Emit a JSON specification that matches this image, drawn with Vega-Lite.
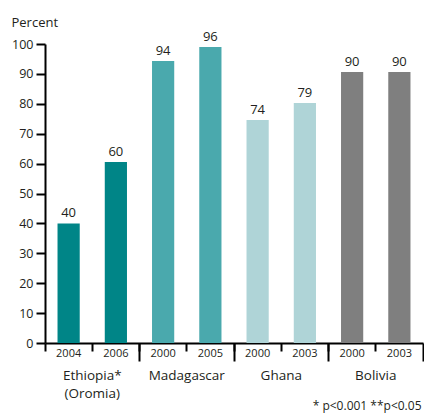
{
  "$schema": "https://vega.github.io/schema/vega-lite/v6.json",
  "autosize": {"type": "none"},
  "padding": {"left": 45, "top": 44, "right": 1, "bottom": 70},
  "width": 378,
  "height": 299,
  "config": {
    "view": {"stroke": null},
    "font": "Open Sans",
    "axis": {"labelFont": "Open Sans", "titleFont": "Open Sans", "labelColor": "#231F20", "titleColor": "#231F20"}
  },
  "data": {
    "values": [
      {"country": "Ethiopia* (Oromia)", "year": "2004", "bar": "Ethiopia 2004", "value": 40, "label": "40"},
      {"country": "Ethiopia* (Oromia)", "year": "2006", "bar": "Ethiopia 2006", "value": 60.5, "label": "60"},
      {"country": "Madagascar", "year": "2000", "bar": "Madagascar 2000", "value": 94.3, "label": "94"},
      {"country": "Madagascar", "year": "2005", "bar": "Madagascar 2005", "value": 99, "label": "96"},
      {"country": "Ghana", "year": "2000", "bar": "Ghana 2000", "value": 74.6, "label": "74"},
      {"country": "Ghana", "year": "2003", "bar": "Ghana 2003", "value": 80.3, "label": "79"},
      {"country": "Bolivia", "year": "2000", "bar": "Bolivia 2000", "value": 90.6, "label": "90"},
      {"country": "Bolivia", "year": "2003", "bar": "Bolivia 2003", "value": 90.6, "label": "90"}
    ]
  },
  "layer": [
    {
      "encoding": {
        "x": {
          "field": "bar", "type": "nominal", "sort": null,
          "scale": {"type": "band", "paddingInner": 0, "paddingOuter": 0},
          "axis": {
            "orient": "bottom",
            "title": null,
            "labelExpr": "slice(datum.value, -4)",
            "labelAngle": 0,
            "labelFontSize": 11,
            "labelPadding": -4,
            "bandPosition": 0,
            "tickSize": 8,
            "tickWidth": 2,
            "tickColor": "#000000",
            "domainColor": "#000000",
            "domainWidth": 2
          }
        },
        "y": {
          "field": "value", "type": "quantitative",
          "scale": {"domain": [0, 100], "nice": false},
          "axis": {
            "values": [0, 10, 20, 30, 40, 50, 60, 70, 80, 90, 100],
            "title": "Percent",
            "titleAngle": 0,
            "titleAlign": "left",
            "titleBaseline": "alphabetic",
            "titleX": -34,
            "titleY": -18,
            "titleFontSize": 13,
            "titleFontWeight": "normal",
            "labelFontSize": 12.5,
            "labelPadding": 3,
            "tickSize": 9,
            "tickWidth": 2,
            "tickColor": "#000000",
            "domainColor": "#000000",
            "domainWidth": 2,
            "grid": false
          }
        }
      },
      "layer": [
        {
          "mark": {"type": "bar", "width": {"band": 0.47}},
          "encoding": {
            "color": {
              "field": "country", "type": "nominal", "legend": null,
              "scale": {
                "domain": ["Ethiopia* (Oromia)", "Madagascar", "Ghana", "Bolivia"],
                "range": ["#008587", "#4AA9AD", "#AFD4D7", "#7F7F7F"]
              }
            }
          }
        },
        {
          "mark": {"type": "text", "dy": -6, "baseline": "alphabetic", "fontSize": 13, "color": "#231F20"},
          "encoding": {"text": {"field": "label"}}
        }
      ]
    },
    {
      "mark": {"type": "text", "opacity": 0},
      "encoding": {
        "text": {"value": ""},
        "x": {
          "field": "country", "type": "nominal", "sort": null,
          "scale": {"type": "band", "paddingInner": 0, "paddingOuter": 0},
          "axis": {
            "orient": "bottom",
            "domain": false,
            "labelExpr": "datum.value == 'Ethiopia* (Oromia)' ? ['Ethiopia*', '(Oromia)'] : datum.value",
            "labelAngle": 0,
            "labelFontSize": 13.5,
            "labelLineHeight": 18,
            "labelPadding": 7,
            "bandPosition": 1,
            "tickSize": 18,
            "tickWidth": 2,
            "tickColor": "#000000",
            "title": "* p<0.001 **p<0.05",
            "titleFontSize": 12,
            "titleFontWeight": "normal",
            "titleAlign": "right",
            "titleBaseline": "alphabetic",
            "titleX": 376,
            "titleY": 66
          }
        }
      }
    }
  ],
  "resolve": {"scale": {"x": "independent"}, "axis": {"x": "independent"}}
}
